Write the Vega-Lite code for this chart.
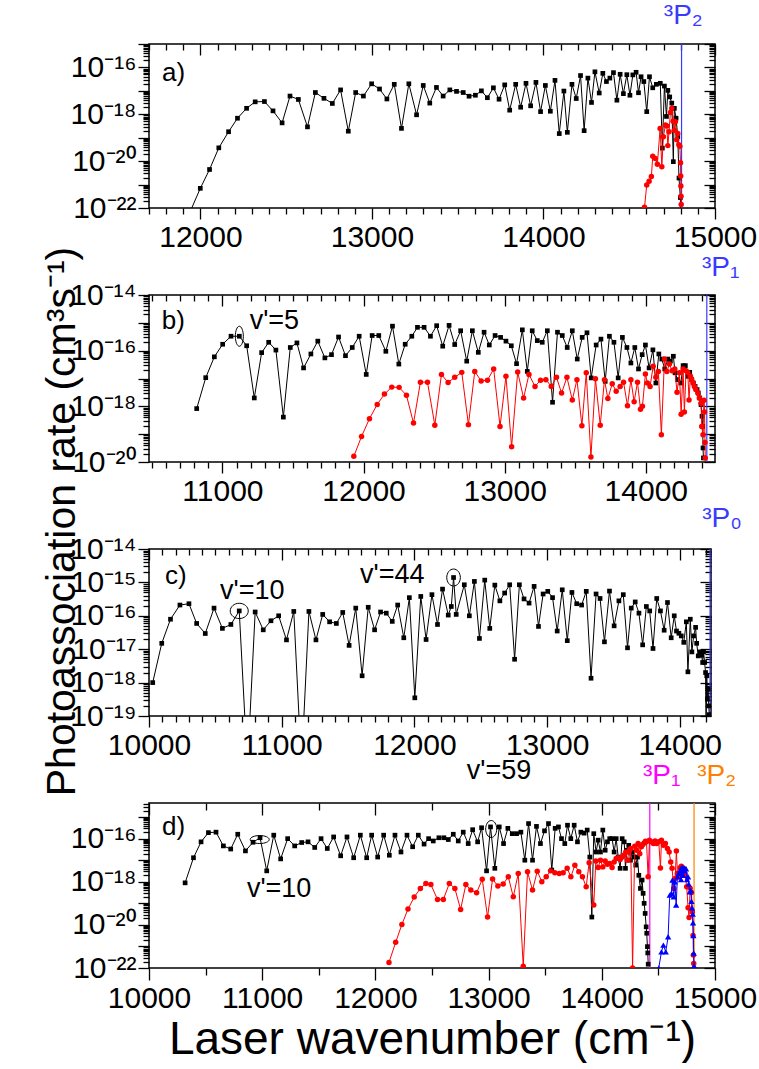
{
"$schema": "https://vega.github.io/schema/vega-lite/v6.json",
"padding": {"left": 40, "top": 1, "right": 0, "bottom": 0},
"config": {
  "font": "Liberation Sans",
  "view": {"stroke": "black", "strokeWidth": 1.5},
  "axis": {"domain": false, "grid": false, "labelFont": "Liberation Sans", "labelFontSize": 30, "labelColor": "black", "tickColor": "black", "tickWidth": 1.3, "labelOverlap": false, "labelFlush": false, "labelBound": false, "titleFont": "Liberation Sans", "titleColor": "black", "titleFontWeight": "normal"}
},
"datasets": {
"aBlack": [{"x":11890,"y":1e-23},{"x":11999,"y":6.9e-22},{"x":12053,"y":4.4e-21},{"x":12107,"y":3.7e-20},{"x":12164,"y":1.8e-19},{"x":12216,"y":6.8e-19},{"x":12269,"y":1.8e-18},{"x":12319,"y":3.4e-18},{"x":12373,"y":3.5e-18},{"x":12423,"y":1.4e-18},{"x":12476,"y":4.3e-19},{"x":12522,"y":6.0e-18},{"x":12571,"y":4.3e-18},{"x":12624,"y":2.9e-19},{"x":12670,"y":8.5e-18},{"x":12720,"y":4.8e-18},{"x":12769,"y":2.9e-18},{"x":12817,"y":1.1e-17},{"x":12862,"y":1.9e-19},{"x":12905,"y":8.5e-18},{"x":12950,"y":6.0e-18},{"x":12998,"y":2.0e-17},{"x":13044,"y":1.2e-17},{"x":13087,"y":4.5e-18},{"x":13130,"y":1.9e-17},{"x":13172,"y":2.5e-19},{"x":13215,"y":2.0e-17},{"x":13260,"y":9.5e-19},{"x":13299,"y":1.7e-17},{"x":13337,"y":3.0e-18},{"x":13376,"y":1.4e-17},{"x":13415,"y":6.0e-18},{"x":13454,"y":1.1e-17},{"x":13493,"y":9.5e-18},{"x":13532,"y":8.5e-18},{"x":13566,"y":5.9e-18},{"x":13603,"y":6.5e-18},{"x":13638,"y":1.0e-17},{"x":13673,"y":5.1e-18},{"x":13708,"y":1.35e-17},{"x":13741,"y":4.4e-18},{"x":13774,"y":1.8e-17},{"x":13803,"y":1.5e-18},{"x":13838,"y":1.9e-17},{"x":13867,"y":2.0e-18},{"x":13898,"y":2.1e-17},{"x":13925,"y":2.3e-18},{"x":13956,"y":2.3e-17},{"x":13983,"y":1.3e-18},{"x":14011,"y":1.7e-17},{"x":14040,"y":1.35e-18},{"x":14067,"y":2.8e-17},{"x":14092,"y":1.5e-19},{"x":14119,"y":9.8e-18},{"x":14139,"y":1.7e-19},{"x":14166,"y":1.9e-17},{"x":14191,"y":4.7e-18},{"x":14216,"y":4.5e-17},{"x":14237,"y":2.0e-19},{"x":14259,"y":3.5e-17},{"x":14280,"y":3.2e-18},{"x":14300,"y":6.5e-17},{"x":14325,"y":8.1e-18},{"x":14346,"y":5.6e-17},{"x":14367,"y":2.5e-17},{"x":14387,"y":3.5e-17},{"x":14408,"y":6.0e-17},{"x":14428,"y":4.0e-18},{"x":14447,"y":5.1e-17},{"x":14466,"y":7.6e-18},{"x":14486,"y":4.9e-17},{"x":14504,"y":6.5e-18},{"x":14521,"y":4.8e-17},{"x":14540,"y":6.2e-17},{"x":14554,"y":8.3e-18},{"x":14569,"y":4.0e-17},{"x":14585,"y":2.5e-17},{"x":14602,"y":1.3e-18},{"x":14618,"y":4.0e-17},{"x":14637,"y":1.35e-17},{"x":14658,"y":1.9e-17},{"x":14681,"y":2.1e-17},{"x":14693,"y":3.6e-20},{"x":14705,"y":1.6e-17},{"x":14717,"y":8.1e-19},{"x":14725,"y":1.05e-17},{"x":14736,"y":5.5e-18},{"x":14748,"y":3.0e-18},{"x":14757,"y":9.5e-21},{"x":14763,"y":1.8e-18},{"x":14773,"y":6.8e-19},{"x":14783,"y":1.1e-19},{"x":14790,"y":1.9e-21},{"x":14798,"y":2.8e-22},{"x":14801,"y":5e-23}],
"aRed": [{"x":14589,"y":1.07e-22},{"x":14602,"y":9.5e-22},{"x":14616,"y":1.4e-21},{"x":14629,"y":2.2e-21},{"x":14637,"y":1.6e-20},{"x":14652,"y":1.3e-20},{"x":14664,"y":7.4e-21},{"x":14680,"y":2.5e-19},{"x":14690,"y":5.8e-21},{"x":14699,"y":1.1e-19},{"x":14711,"y":3.5e-19},{"x":14719,"y":3.2e-19},{"x":14725,"y":4.6e-20},{"x":14732,"y":1.8e-19},{"x":14740,"y":1.2e-18},{"x":14748,"y":1.8e-18},{"x":14756,"y":5.1e-19},{"x":14763,"y":2.1e-19},{"x":14769,"y":4.8e-19},{"x":14777,"y":8.1e-20},{"x":14783,"y":1.5e-19},{"x":14789,"y":5.0e-20},{"x":14795,"y":4.3e-20},{"x":14799,"y":8.5e-21},{"x":14800,"y":2.3e-21},{"x":14801,"y":8.7e-22},{"x":14802,"y":3.2e-22},{"x":14803,"y":1.4e-22}],
"bBlack": [{"x":10818,"y":8.3e-19},{"x":10882,"y":1.07e-17},{"x":10943,"y":6.0e-17},{"x":11002,"y":1.7e-16},{"x":11061,"y":3.3e-16},{"x":11120,"y":3.3e-16},{"x":11172,"y":1.5e-16},{"x":11226,"y":2.0e-18},{"x":11278,"y":8.5e-17},{"x":11328,"y":2.0e-16},{"x":11379,"y":1.05e-16},{"x":11432,"y":4.1e-19},{"x":11481,"y":1.3e-16},{"x":11528,"y":1.9e-16},{"x":11575,"y":2.4e-17},{"x":11627,"y":7.6e-17},{"x":11676,"y":2.2e-16},{"x":11726,"y":5.5e-17},{"x":11773,"y":7.2e-17},{"x":11823,"y":3.1e-16},{"x":11872,"y":6.6e-17},{"x":11920,"y":1.3e-16},{"x":11969,"y":3.3e-16},{"x":12019,"y":1.4e-17},{"x":12061,"y":3.5e-16},{"x":12108,"y":3.5e-16},{"x":12158,"y":9.5e-17},{"x":12205,"y":7.6e-16},{"x":12250,"y":3.3e-17},{"x":12295,"y":1.7e-16},{"x":12342,"y":3.3e-16},{"x":12382,"y":6.9e-16},{"x":12429,"y":6.9e-16},{"x":12474,"y":3.3e-16},{"x":12518,"y":7.9e-16},{"x":12561,"y":1.45e-16},{"x":12606,"y":8.1e-16},{"x":12646,"y":1.66e-16},{"x":12688,"y":5.2e-16},{"x":12731,"y":4.2e-17},{"x":12771,"y":5.2e-16},{"x":12813,"y":8.7e-17},{"x":12854,"y":4.6e-16},{"x":12891,"y":1.6e-16},{"x":12932,"y":3.5e-16},{"x":12971,"y":3.0e-16},{"x":13009,"y":2.2e-16},{"x":13047,"y":1.5e-16},{"x":13084,"y":3.4e-17},{"x":13125,"y":5.6e-16},{"x":13160,"y":1.8e-17},{"x":13195,"y":5.2e-16},{"x":13231,"y":2.3e-16},{"x":13266,"y":2.0e-16},{"x":13302,"y":5.2e-16},{"x":13339,"y":1.4e-18},{"x":13374,"y":4.6e-16},{"x":13408,"y":3.5e-16},{"x":13443,"y":1.3e-16},{"x":13479,"y":5.2e-16},{"x":13514,"y":5.0e-17},{"x":13549,"y":3.0e-16},{"x":13583,"y":4.4e-16},{"x":13613,"y":1.05e-17},{"x":13648,"y":1.6e-16},{"x":13682,"y":2.6e-16},{"x":13712,"y":7.9e-18},{"x":13742,"y":3.3e-16},{"x":13774,"y":2.0e-16},{"x":13804,"y":1.05e-17},{"x":13834,"y":3.0e-16},{"x":13866,"y":1.3e-16},{"x":13894,"y":3.6e-17},{"x":13922,"y":1.3e-16},{"x":13948,"y":2.2e-17},{"x":13974,"y":7.2e-17},{"x":13997,"y":1.6e-16},{"x":14023,"y":2.4e-17},{"x":14050,"y":1.07e-16},{"x":14071,"y":6.9e-18},{"x":14092,"y":7.6e-17},{"x":14113,"y":5.0e-17},{"x":14134,"y":2.2e-17},{"x":14156,"y":5.0e-17},{"x":14174,"y":4.2e-17},{"x":14195,"y":6.3e-17},{"x":14207,"y":1.6e-17},{"x":14226,"y":9.1e-18},{"x":14248,"y":6.9e-18},{"x":14264,"y":2.9e-17},{"x":14280,"y":2.9e-17},{"x":14297,"y":1.2e-17},{"x":14311,"y":1.66e-17},{"x":14325,"y":9.1e-18},{"x":14337,"y":6.9e-18},{"x":14349,"y":5.2e-18},{"x":14363,"y":4.0e-18},{"x":14372,"y":3.0e-18},{"x":14382,"y":2.0e-18},{"x":14391,"y":1.15e-18},{"x":14398,"y":4.4e-19},{"x":14403,"y":1.9e-19},{"x":14405,"y":3.2e-20},{"x":14408,"y":1.4e-20}],
"bRed": [{"x":11931,"y":1.6e-20},{"x":11986,"y":8.3e-20},{"x":12042,"y":3.6e-19},{"x":12097,"y":1.17e-18},{"x":12148,"y":2.75e-18},{"x":12200,"y":4.9e-18},{"x":12252,"y":4.8e-18},{"x":12304,"y":2.5e-18},{"x":12354,"y":2.5e-19},{"x":12403,"y":7.4e-18},{"x":12453,"y":7.4e-18},{"x":12505,"y":2.1e-19},{"x":12552,"y":1.4e-17},{"x":12599,"y":7.2e-18},{"x":12646,"y":1.1e-17},{"x":12696,"y":1.66e-17},{"x":12743,"y":2.2e-19},{"x":12788,"y":1.8e-17},{"x":12833,"y":8.1e-18},{"x":12878,"y":8.7e-18},{"x":12922,"y":2.2e-17},{"x":12967,"y":1.9e-19},{"x":13009,"y":1.2e-17},{"x":13049,"y":3.5e-20},{"x":13092,"y":1.7e-17},{"x":13134,"y":2.0e-18},{"x":13172,"y":1.4e-17},{"x":13215,"y":5.2e-18},{"x":13254,"y":8.7e-18},{"x":13292,"y":9.1e-18},{"x":13330,"y":5.2e-18},{"x":13367,"y":1.1e-17},{"x":13403,"y":3.0e-18},{"x":13441,"y":1.1e-17},{"x":13479,"y":1.7e-18},{"x":13512,"y":9.1e-18},{"x":13547,"y":2.0e-19},{"x":13578,"y":1.6e-17},{"x":13611,"y":1.5e-20},{"x":13643,"y":9.8e-18},{"x":13677,"y":2.1e-19},{"x":13707,"y":9.1e-18},{"x":13731,"y":1.9e-18},{"x":13762,"y":6.5e-18},{"x":13790,"y":3.5e-18},{"x":13818,"y":5.2e-18},{"x":13842,"y":7.4e-18},{"x":13870,"y":1.05e-18},{"x":13894,"y":9.1e-18},{"x":13917,"y":1.45e-18},{"x":13941,"y":7.4e-18},{"x":13962,"y":7.9e-19},{"x":13976,"y":1.0e-18},{"x":13997,"y":1.45e-17},{"x":14011,"y":6.9e-18},{"x":14030,"y":5.2e-18},{"x":14052,"y":2.75e-17},{"x":14071,"y":1.1e-17},{"x":14089,"y":1.8e-17},{"x":14110,"y":9.5e-20},{"x":14132,"y":5.0e-17},{"x":14149,"y":1.8e-17},{"x":14167,"y":3.3e-17},{"x":14186,"y":1.9e-17},{"x":14205,"y":2.2e-17},{"x":14221,"y":3.2e-18},{"x":14238,"y":1.6e-17},{"x":14250,"y":5.2e-19},{"x":14264,"y":2.2e-17},{"x":14273,"y":6.2e-19},{"x":14285,"y":1.9e-17},{"x":14297,"y":1.66e-17},{"x":14306,"y":1.7e-18},{"x":14316,"y":1.2e-17},{"x":14325,"y":9.1e-18},{"x":14335,"y":6.9e-18},{"x":14344,"y":5.2e-18},{"x":14354,"y":4.0e-18},{"x":14368,"y":3.0e-18},{"x":14379,"y":2.0e-18},{"x":14391,"y":1.3e-18},{"x":14396,"y":1.9e-19},{"x":14405,"y":9.5e-20},{"x":14412,"y":1.66e-18},{"x":14416,"y":6.3e-19},{"x":14419,"y":5.0e-20},{"x":14421,"y":1.4e-20}],
"cBlack": [{"x":10028,"y":1.0e-18},{"x":10096,"y":1.5e-17},{"x":10162,"y":7.9e-17},{"x":10233,"y":2.1e-16},{"x":10301,"y":2.3e-16},{"x":10359,"y":5.9e-17},{"x":10424,"y":2.95e-17},{"x":10490,"y":1.7e-16},{"x":10553,"y":4.2e-17},{"x":10617,"y":5.5e-17},{"x":10680,"y":1.4e-16},{"x":10742,"y":3e-21},{"x":10800,"y":1.3e-16},{"x":10861,"y":3.8e-17},{"x":10919,"y":7.1e-17},{"x":10977,"y":1.0e-16},{"x":11036,"y":1.9e-17},{"x":11091,"y":1.35e-16},{"x":11149,"y":3e-21},{"x":11205,"y":1.35e-16},{"x":11258,"y":1.9e-17},{"x":11309,"y":1.1e-16},{"x":11361,"y":6.6e-17},{"x":11412,"y":5.9e-17},{"x":11460,"y":1.26e-16},{"x":11508,"y":1.3e-17},{"x":11558,"y":1.7e-16},{"x":11606,"y":1.6e-18},{"x":11652,"y":1.8e-16},{"x":11700,"y":3.8e-17},{"x":11745,"y":1.3e-16},{"x":11788,"y":1.2e-16},{"x":11833,"y":6.8e-17},{"x":11874,"y":2.1e-16},{"x":11920,"y":2.2e-17},{"x":11962,"y":3.5e-16},{"x":12003,"y":3.5e-19},{"x":12048,"y":3.8e-16},{"x":12088,"y":1.95e-17},{"x":12132,"y":4.3e-16},{"x":12174,"y":5.5e-17},{"x":12212,"y":6.3e-16},{"x":12255,"y":1.05e-16},{"x":12278,"y":1.9e-16},{"x":12295,"y":1.4e-15},{"x":12315,"y":1.1e-16},{"x":12376,"y":8.5e-16},{"x":12414,"y":1.0e-16},{"x":12452,"y":1.07e-15},{"x":12490,"y":2.1e-17},{"x":12530,"y":1.17e-15},{"x":12568,"y":4.2e-17},{"x":12606,"y":8.3e-16},{"x":12644,"y":2.8e-16},{"x":12680,"y":4.8e-16},{"x":12718,"y":8.5e-16},{"x":12755,"y":5.0e-18},{"x":12791,"y":8.5e-16},{"x":12826,"y":3.2e-16},{"x":12864,"y":2.4e-16},{"x":12902,"y":7.6e-16},{"x":12935,"y":4.8e-17},{"x":12970,"y":4.5e-16},{"x":13005,"y":5.4e-16},{"x":13041,"y":3.5e-16},{"x":13076,"y":3.5e-17},{"x":13114,"y":6.0e-16},{"x":13152,"y":1.8e-17},{"x":13187,"y":5.0e-16},{"x":13223,"y":2.3e-16},{"x":13260,"y":2.1e-16},{"x":13295,"y":5.4e-16},{"x":13331,"y":1.35e-18},{"x":13369,"y":4.5e-16},{"x":13399,"y":3.3e-16},{"x":13432,"y":1.66e-17},{"x":13470,"y":5.5e-16},{"x":13505,"y":5.0e-17},{"x":13541,"y":2.8e-16},{"x":13574,"y":4.3e-16},{"x":13606,"y":1.1e-17},{"x":13634,"y":1.7e-16},{"x":13664,"y":2.6e-16},{"x":13692,"y":1.2e-16},{"x":13720,"y":1.35e-17},{"x":13748,"y":1.9e-16},{"x":13773,"y":1.4e-16},{"x":13798,"y":1.05e-17},{"x":13826,"y":3.3e-16},{"x":13854,"y":1.4e-16},{"x":13882,"y":3.7e-17},{"x":13907,"y":2.5e-16},{"x":13935,"y":2.2e-17},{"x":13958,"y":1.0e-16},{"x":13975,"y":3.5e-17},{"x":13993,"y":3.0e-17},{"x":14011,"y":2.5e-17},{"x":14030,"y":1.6e-17},{"x":14049,"y":6.6e-17},{"x":14061,"y":2.1e-18},{"x":14079,"y":7.9e-17},{"x":14091,"y":8.3e-18},{"x":14104,"y":2.5e-17},{"x":14119,"y":4.5e-17},{"x":14127,"y":1.5e-17},{"x":14139,"y":6.3e-18},{"x":14152,"y":8.3e-18},{"x":14164,"y":6.6e-18},{"x":14172,"y":4.0e-18},{"x":14179,"y":8.3e-18},{"x":14187,"y":4.0e-18},{"x":14194,"y":2.0e-18},{"x":14198,"y":3.2e-20},{"x":14203,"y":1.6e-18},{"x":14208,"y":3.2e-19},{"x":14213,"y":6.3e-19},{"x":14218,"y":2.0e-19},{"x":14222,"y":1.1e-19},{"x":14225,"y":5e-20}],
"dBlack": [{"x":10319,"y":8.9e-19},{"x":10393,"y":1.3e-17},{"x":10460,"y":7.1e-17},{"x":10525,"y":1.9e-16},{"x":10592,"y":2.0e-16},{"x":10657,"y":4.6e-17},{"x":10722,"y":3.3e-17},{"x":10784,"y":1.6e-16},{"x":10852,"y":2.7e-17},{"x":10919,"y":6.8e-17},{"x":10981,"y":1.1e-16},{"x":11040,"y":3.2e-18},{"x":11102,"y":1.45e-16},{"x":11163,"y":1.15e-17},{"x":11225,"y":1.0e-16},{"x":11287,"y":4.6e-17},{"x":11349,"y":6.6e-17},{"x":11405,"y":7.1e-17},{"x":11464,"y":3.9e-17},{"x":11520,"y":1.0e-16},{"x":11575,"y":3.5e-17},{"x":11631,"y":1.2e-16},{"x":11693,"y":1.6e-17},{"x":11749,"y":1.2e-16},{"x":11808,"y":1.3e-17},{"x":11867,"y":1.45e-16},{"x":11923,"y":1.3e-17},{"x":11967,"y":1.45e-16},{"x":12020,"y":1.4e-17},{"x":12073,"y":1.45e-16},{"x":12123,"y":1.7e-17},{"x":12173,"y":1.45e-16},{"x":12226,"y":2.4e-17},{"x":12279,"y":1.45e-16},{"x":12329,"y":4.2e-17},{"x":12379,"y":1.45e-16},{"x":12430,"y":5.6e-17},{"x":12470,"y":1.0e-16},{"x":12511,"y":7.8e-17},{"x":12561,"y":1.1e-16},{"x":12605,"y":1.1e-16},{"x":12644,"y":9.1e-17},{"x":12688,"y":1.6e-16},{"x":12732,"y":7.8e-17},{"x":12776,"y":2.0e-16},{"x":12820,"y":5.9e-17},{"x":12859,"y":2.6e-16},{"x":12903,"y":7.1e-17},{"x":12938,"y":3.2e-16},{"x":12982,"y":3.2e-18},{"x":13017,"y":3.5e-16},{"x":13055,"y":4.2e-18},{"x":13094,"y":3.5e-16},{"x":13132,"y":5.9e-17},{"x":13170,"y":3.0e-16},{"x":13209,"y":1.7e-16},{"x":13247,"y":1.7e-16},{"x":13285,"y":2.0e-16},{"x":13320,"y":1.0e-17},{"x":13353,"y":5.0e-16},{"x":13388,"y":1.0e-17},{"x":13423,"y":3.7e-16},{"x":13458,"y":5.9e-17},{"x":13494,"y":2.3e-16},{"x":13529,"y":5.0e-16},{"x":13558,"y":3.5e-18},{"x":13588,"y":3.0e-16},{"x":13617,"y":3.5e-16},{"x":13644,"y":1.0e-16},{"x":13673,"y":5.9e-17},{"x":13697,"y":4.2e-16},{"x":13726,"y":1.0e-16},{"x":13756,"y":4.2e-16},{"x":13785,"y":7.1e-17},{"x":13815,"y":2.0e-16},{"x":13844,"y":1.8e-16},{"x":13871,"y":2.5e-16},{"x":13894,"y":1.4e-17},{"x":13912,"y":2.3e-20},{"x":13929,"y":1.7e-16},{"x":13950,"y":2.4e-17},{"x":13968,"y":8.5e-17},{"x":13988,"y":2.4e-17},{"x":14009,"y":2.5e-16},{"x":14030,"y":2.9e-17},{"x":14050,"y":7.1e-17},{"x":14070,"y":1.0e-16},{"x":14091,"y":1.0e-16},{"x":14109,"y":2.4e-17},{"x":14127,"y":1.0e-16},{"x":14145,"y":1.4e-17},{"x":14162,"y":4.2e-18},{"x":14180,"y":1.0e-16},{"x":14198,"y":7.1e-17},{"x":14209,"y":4.2e-18},{"x":14221,"y":2.9e-17},{"x":14238,"y":4.9e-17},{"x":14253,"y":1.0e-17},{"x":14268,"y":2.4e-17},{"x":14286,"y":1.4e-17},{"x":14300,"y":5.9e-18},{"x":14315,"y":1.4e-17},{"x":14327,"y":2.0e-18},{"x":14341,"y":4.9e-19},{"x":14356,"y":1.2e-18},{"x":14365,"y":2.9e-19},{"x":14374,"y":1.0e-19},{"x":14383,"y":3.4e-20},{"x":14392,"y":8.1e-21},{"x":14397,"y":4.1e-21},{"x":14403,"y":9.8e-22},{"x":14406,"y":5.0e-22},{"x":14410,"y":1.5e-22}],
"dRed": [{"x":12120,"y":1.8e-22},{"x":12179,"y":1.55e-21},{"x":12234,"y":1.05e-20},{"x":12288,"y":5.4e-20},{"x":12343,"y":1.95e-19},{"x":12397,"y":4.9e-19},{"x":12446,"y":8.3e-19},{"x":12490,"y":7.4e-19},{"x":12549,"y":1.5e-19},{"x":12600,"y":1.5e-19},{"x":12653,"y":8.3e-19},{"x":12702,"y":4.9e-19},{"x":12753,"y":5.2e-20},{"x":12799,"y":7.4e-19},{"x":12843,"y":4.1e-19},{"x":12894,"y":3.1e-19},{"x":12944,"y":1.3e-18},{"x":12991,"y":2.3e-20},{"x":13035,"y":1.35e-18},{"x":13082,"y":6.3e-19},{"x":13129,"y":7.8e-19},{"x":13174,"y":1.7e-18},{"x":13218,"y":2.0e-19},{"x":13262,"y":2.4e-18},{"x":13306,"y":1.2e-22},{"x":13344,"y":2.9e-18},{"x":13388,"y":4.1e-19},{"x":13430,"y":3.1e-18},{"x":13470,"y":1.0e-18},{"x":13509,"y":1.7e-18},{"x":13547,"y":3.2e-18},{"x":13585,"y":2.6e-18},{"x":13624,"y":2.4e-18},{"x":13659,"y":2.6e-18},{"x":13694,"y":4.2e-18},{"x":13727,"y":1.7e-18},{"x":13762,"y":5.9e-18},{"x":13797,"y":2.9e-18},{"x":13829,"y":1.7e-18},{"x":13862,"y":5.8e-19},{"x":13888,"y":7.6e-18},{"x":13929,"y":8.3e-20},{"x":13947,"y":9.3e-18},{"x":13968,"y":4.6e-18},{"x":13988,"y":1.0e-17},{"x":14009,"y":4.9e-18},{"x":14030,"y":9.3e-18},{"x":14050,"y":6.5e-18},{"x":14070,"y":7.1e-18},{"x":14091,"y":4.6e-18},{"x":14109,"y":8.3e-18},{"x":14127,"y":1.2e-17},{"x":14145,"y":1.3e-17},{"x":14162,"y":1.07e-17},{"x":14180,"y":1.4e-17},{"x":14194,"y":1.7e-17},{"x":14212,"y":2.4e-17},{"x":14227,"y":1.0e-17},{"x":14238,"y":2.4e-17},{"x":14247,"y":3.1e-17},{"x":14256,"y":3.5e-17},{"x":14272,"y":1.0e-22},{"x":14291,"y":4.5e-17},{"x":14306,"y":2.9e-17},{"x":14321,"y":5.9e-17},{"x":14335,"y":2.0e-17},{"x":14350,"y":4.2e-17},{"x":14362,"y":5.4e-17},{"x":14374,"y":6.3e-17},{"x":14386,"y":7.6e-17},{"x":14395,"y":7.1e-17},{"x":14409,"y":1.7e-18},{"x":14421,"y":8.5e-17},{"x":14439,"y":7.1e-17},{"x":14456,"y":5.9e-17},{"x":14471,"y":7.8e-17},{"x":14485,"y":5.9e-17},{"x":14503,"y":7.1e-17},{"x":14518,"y":4.4e-18},{"x":14527,"y":8.5e-17},{"x":14544,"y":4.9e-17},{"x":14562,"y":5.9e-17},{"x":14580,"y":3.5e-17},{"x":14595,"y":2.4e-17},{"x":14609,"y":8.3e-18},{"x":14621,"y":4.2e-18},{"x":14636,"y":4.9e-19},{"x":14648,"y":1.4e-18},{"x":14659,"y":2.7e-17},{"x":14668,"y":2.5e-18},{"x":14680,"y":1.7e-18},{"x":14692,"y":4.5e-18},{"x":14703,"y":5.2e-18},{"x":14715,"y":3.2e-18},{"x":14727,"y":4.0e-18},{"x":14738,"y":2.0e-18},{"x":14750,"y":5.8e-19},{"x":14762,"y":6.3e-20},{"x":14771,"y":2.2e-20},{"x":14780,"y":5.0e-19},{"x":14792,"y":3.2e-19},{"x":14800,"y":4.0e-20},{"x":14806,"y":3.2e-21},{"x":14809,"y":4.0e-22},{"x":14812,"y":1.6e-22}],
"dBlue": [{"x":14503,"y":1.0e-22},{"x":14527,"y":5.6e-22},{"x":14544,"y":1.15e-21},{"x":14565,"y":5.6e-22},{"x":14586,"y":2.8e-21},{"x":14600,"y":2.4e-19},{"x":14615,"y":2.9e-19},{"x":14624,"y":1.2e-18},{"x":14636,"y":2.0e-19},{"x":14645,"y":1.0e-18},{"x":14657,"y":8.3e-20},{"x":14668,"y":1.7e-18},{"x":14680,"y":2.5e-18},{"x":14692,"y":3.5e-18},{"x":14700,"y":1.26e-18},{"x":14709,"y":4.9e-18},{"x":14718,"y":2.0e-18},{"x":14727,"y":4.5e-18},{"x":14735,"y":3.2e-18},{"x":14744,"y":4.0e-18},{"x":14753,"y":1.26e-18},{"x":14762,"y":1.7e-18},{"x":14768,"y":7.9e-19},{"x":14777,"y":3.4e-19},{"x":14786,"y":4.0e-19},{"x":14792,"y":1.26e-19},{"x":14797,"y":6.3e-20},{"x":14803,"y":3.2e-20},{"x":14806,"y":1.26e-20},{"x":14809,"y":3.2e-21},{"x":14812,"y":5.0e-22},{"x":14815,"y":1.26e-22}]
},
"spacing": 87,
"bounds": "flush",
"vconcat": [
{
 "width": 566, "height": 164,
 "resolve": {"axis": {"x": "independent", "y": "independent"}},
 "layer": [
  {"data": {"values": [{}]}, "mark": {"type": "rule", "color": "#3a3aff", "strokeWidth": 1.2}, "encoding": {"x": {"datum": 14805, "type": "quantitative", "scale": {"domain": [11700, 15000], "nice": false, "zero": false}, "axis": null}}},
  {"data": {"name": "aBlack"}, "mark": {"type": "line", "color": "black", "strokeWidth": 1, "clip": true},
   "encoding": {
    "x": {"field": "x", "type": "quantitative", "scale": {"domain": [11700, 15000], "nice": false, "zero": false},
      "axis": {"orient": "bottom", "values": [11700,11800,11900,12000,12100,12200,12300,12400,12500,12600,12700,12800,12900,13000,13100,13200,13300,13400,13500,13600,13700,13800,13900,14000,14100,14200,14300,14400,14500,14600,14700,14800,14900,15000], "tickSize": {"condition": {"test": "datum.value % 1000 == 0", "value": 11}, "value": 6}, "labelExpr": "datum.value % 1000 == 0 ? format(datum.value, 'd') : ''", "labelPadding": 3, "title": null}},
    "y": {"field": "y", "type": "quantitative", "scale": {"type": "log", "domain": [1e-22, 1e-15], "nice": false},
      "axis": {"orient": "left", "tickCount": 40, "tickSize": {"condition": {"test": "abs(log(datum.value)/LN10 - round(log(datum.value)/LN10)) < 0.01", "value": 11}, "value": 6}, "labelExpr": "abs(log(datum.value)/LN10 - round(log(datum.value)/LN10)) < 0.01 && round(log(datum.value)/LN10) % 2 == 0 ? '10⁻' + substring('⁰¹²³⁴⁵⁶⁷⁸⁹', floor(-round(log(datum.value)/LN10) / 10), floor(-round(log(datum.value)/LN10) / 10) + 1) + substring('⁰¹²³⁴⁵⁶⁷⁸⁹', -round(log(datum.value)/LN10) % 10, -round(log(datum.value)/LN10) % 10 + 1) : ''", "labelPadding": 2, "title": null}}
   }},
  {"data": {"name": "aBlack"}, "mark": {"type": "point", "shape": "square", "filled": true, "color": "black", "size": 22, "opacity": 1, "clip": true},
   "encoding": {
    "x": {"field": "x", "type": "quantitative", "scale": {"domain": [11700, 15000], "nice": false, "zero": false},
      "axis": {"orient": "top", "values": [11700,11800,11900,12000,12100,12200,12300,12400,12500,12600,12700,12800,12900,13000,13100,13200,13300,13400,13500,13600,13700,13800,13900,14000,14100,14200,14300,14400,14500,14600,14700,14800,14900,15000], "tickSize": {"condition": {"test": "datum.value % 1000 == 0", "value": -11}, "value": -6}, "labels": false, "title": null}},
    "y": {"field": "y", "type": "quantitative", "scale": {"type": "log", "domain": [1e-22, 1e-15], "nice": false},
      "axis": {"orient": "right", "tickCount": 40, "tickSize": {"condition": {"test": "abs(log(datum.value)/LN10 - round(log(datum.value)/LN10)) < 0.01", "value": -11}, "value": -6}, "labels": false, "title": null}}
   }},
  {"data": {"name": "aRed"}, "mark": {"type": "line", "color": "#ff0000", "strokeWidth": 1, "clip": true},
   "encoding": {"x": {"field": "x", "type": "quantitative", "scale": {"domain": [11700, 15000], "nice": false, "zero": false}, "axis": null}, "y": {"field": "y", "type": "quantitative", "scale": {"type": "log", "domain": [1e-22, 1e-15], "nice": false}, "axis": null}}},
  {"data": {"name": "aRed"}, "mark": {"type": "point", "shape": "circle", "filled": true, "color": "#ff0000", "size": 30, "opacity": 1, "clip": true},
   "encoding": {"x": {"field": "x", "type": "quantitative", "scale": {"domain": [11700, 15000], "nice": false, "zero": false}, "axis": null}, "y": {"field": "y", "type": "quantitative", "scale": {"type": "log", "domain": [1e-22, 1e-15], "nice": false}, "axis": null}}},
  {"data": {"values": [{}]}, "mark": {"type": "text", "text": "a)", "fontSize": 26, "color": "black", "align": "left", "baseline": "middle"},
   "encoding": {"x": {"datum": 11776, "type": "quantitative", "scale": {"domain": [11700, 15000], "nice": false, "zero": false}, "axis": null}, "y": {"datum": 5.8e-17, "type": "quantitative", "scale": {"type": "log", "domain": [1e-22, 1e-15], "nice": false}, "axis": null}}},
  {"data": {"values": [{}]}, "mark": {"type": "text", "text": "³P₂", "fontSize": 28, "color": "#3a3aff", "align": "center", "baseline": "middle"},
   "encoding": {"x": {"datum": 14815, "type": "quantitative", "scale": {"domain": [11700, 15000], "nice": false, "zero": false}, "axis": null}, "y": {"datum": 1.6e-14, "type": "quantitative", "scale": {"type": "log", "domain": [1e-22, 1e-15], "nice": false}, "axis": null}}}
 ]
},
{
 "width": 566, "height": 167,
 "resolve": {"axis": {"x": "independent", "y": "independent"}},
 "layer": [
  {"data": {"values": [{}]}, "mark": {"type": "rule", "color": "#3a3aff", "strokeWidth": 1.2}, "encoding": {"x": {"datum": 14432, "type": "quantitative", "scale": {"domain": [10480, 14490], "nice": false, "zero": false}, "axis": null}}},
  {"data": {"name": "bBlack"}, "mark": {"type": "line", "color": "black", "strokeWidth": 1, "clip": true},
   "encoding": {
    "x": {"field": "x", "type": "quantitative", "scale": {"domain": [10480, 14490], "nice": false, "zero": false},
      "axis": {"orient": "bottom", "values": [10500,10600,10700,10800,10900,11000,11100,11200,11300,11400,11500,11600,11700,11800,11900,12000,12100,12200,12300,12400,12500,12600,12700,12800,12900,13000,13100,13200,13300,13400,13500,13600,13700,13800,13900,14000,14100,14200,14300,14400], "tickSize": {"condition": {"test": "datum.value % 1000 == 0", "value": 11}, "value": 6}, "labelExpr": "datum.value % 1000 == 0 ? format(datum.value, 'd') : ''", "labelPadding": 3, "title": null}},
    "y": {"field": "y", "type": "quantitative", "scale": {"type": "log", "domain": [1e-20, 1e-14], "nice": false},
      "axis": {"orient": "left", "tickCount": 40, "tickSize": {"condition": {"test": "abs(log(datum.value)/LN10 - round(log(datum.value)/LN10)) < 0.01", "value": 11}, "value": 6}, "labelExpr": "abs(log(datum.value)/LN10 - round(log(datum.value)/LN10)) < 0.01 && round(log(datum.value)/LN10) % 2 == 0 ? '10⁻' + substring('⁰¹²³⁴⁵⁶⁷⁸⁹', floor(-round(log(datum.value)/LN10) / 10), floor(-round(log(datum.value)/LN10) / 10) + 1) + substring('⁰¹²³⁴⁵⁶⁷⁸⁹', -round(log(datum.value)/LN10) % 10, -round(log(datum.value)/LN10) % 10 + 1) : ''", "labelPadding": 2,
        "title": "Photoassociation rate (cm³s⁻¹)", "titleFontSize": 41, "titleX": -87, "titleY": 226, "titleAngle": 270, "titleAlign": "center", "titleBaseline": "middle"}}
   }},
  {"data": {"name": "bBlack"}, "mark": {"type": "point", "shape": "square", "filled": true, "color": "black", "size": 22, "opacity": 1, "clip": true},
   "encoding": {
    "x": {"field": "x", "type": "quantitative", "scale": {"domain": [10480, 14490], "nice": false, "zero": false},
      "axis": {"orient": "top", "values": [10500,10600,10700,10800,10900,11000,11100,11200,11300,11400,11500,11600,11700,11800,11900,12000,12100,12200,12300,12400,12500,12600,12700,12800,12900,13000,13100,13200,13300,13400,13500,13600,13700,13800,13900,14000,14100,14200,14300,14400], "tickSize": {"condition": {"test": "datum.value % 1000 == 0", "value": -11}, "value": -6}, "labels": false, "title": null}},
    "y": {"field": "y", "type": "quantitative", "scale": {"type": "log", "domain": [1e-20, 1e-14], "nice": false},
      "axis": {"orient": "right", "tickCount": 40, "tickSize": {"condition": {"test": "abs(log(datum.value)/LN10 - round(log(datum.value)/LN10)) < 0.01", "value": -11}, "value": -6}, "labels": false, "title": null}}
   }},
  {"data": {"name": "bRed"}, "mark": {"type": "line", "color": "#ff0000", "strokeWidth": 1, "clip": true},
   "encoding": {"x": {"field": "x", "type": "quantitative", "scale": {"domain": [10480, 14490], "nice": false, "zero": false}, "axis": null}, "y": {"field": "y", "type": "quantitative", "scale": {"type": "log", "domain": [1e-20, 1e-14], "nice": false}, "axis": null}}},
  {"data": {"name": "bRed"}, "mark": {"type": "point", "shape": "circle", "filled": true, "color": "#ff0000", "size": 30, "opacity": 1, "clip": true},
   "encoding": {"x": {"field": "x", "type": "quantitative", "scale": {"domain": [10480, 14490], "nice": false, "zero": false}, "axis": null}, "y": {"field": "y", "type": "quantitative", "scale": {"type": "log", "domain": [1e-20, 1e-14], "nice": false}, "axis": null}}},
  {"data": {"values": [{}]}, "mark": {"type": "text", "text": "b)", "fontSize": 26, "color": "black", "align": "left", "baseline": "middle"},
   "encoding": {"x": {"datum": 10570, "type": "quantitative", "scale": {"domain": [10480, 14490], "nice": false, "zero": false}, "axis": null}, "y": {"datum": 1.2e-15, "type": "quantitative", "scale": {"type": "log", "domain": [1e-20, 1e-14], "nice": false}, "axis": null}}},
  {"data": {"values": [{}]}, "mark": {"type": "text", "text": "v'=5", "fontSize": 27, "color": "black", "align": "left", "baseline": "middle"},
   "encoding": {"x": {"datum": 11193, "type": "quantitative", "scale": {"domain": [10480, 14490], "nice": false, "zero": false}, "axis": null}, "y": {"datum": 1.2e-15, "type": "quantitative", "scale": {"type": "log", "domain": [1e-20, 1e-14], "nice": false}, "axis": null}}},
  {"data": {"values": [{}]}, "mark": {"type": "point", "shape": "M-0.4,0A0.4,1 0 1,0 0.4,0A0.4,1 0 1,0 -0.4,0Z", "filled": false, "color": "black", "strokeWidth": 1, "size": 400, "opacity": 1},
   "encoding": {"x": {"datum": 11120, "type": "quantitative", "scale": {"domain": [10480, 14490], "nice": false, "zero": false}, "axis": null}, "y": {"datum": 3.3e-16, "type": "quantitative", "scale": {"type": "log", "domain": [1e-20, 1e-14], "nice": false}, "axis": null}}},
  {"data": {"values": [{}]}, "mark": {"type": "text", "text": "³P₁", "fontSize": 28, "color": "#3a3aff", "align": "center", "baseline": "middle"},
   "encoding": {"x": {"datum": 14530, "type": "quantitative", "scale": {"domain": [10480, 14490], "nice": false, "zero": false}, "axis": null}, "y": {"datum": 9.3e-14, "type": "quantitative", "scale": {"type": "log", "domain": [1e-20, 1e-14], "nice": false}, "axis": null}}}
 ]
},
{
 "width": 562, "height": 167,
 "resolve": {"axis": {"x": "independent", "y": "independent"}},
 "layer": [
  {"data": {"values": [{}]}, "mark": {"type": "rule", "color": "#3a3aff", "strokeWidth": 1.2}, "encoding": {"x": {"datum": 14228, "type": "quantitative", "scale": {"domain": [10000, 14235], "nice": false, "zero": false}, "axis": null}}},
  {"data": {"name": "cBlack"}, "mark": {"type": "line", "color": "black", "strokeWidth": 1, "clip": true},
   "encoding": {
    "x": {"field": "x", "type": "quantitative", "scale": {"domain": [10000, 14235], "nice": false, "zero": false},
      "axis": {"orient": "bottom", "values": [10000,10100,10200,10300,10400,10500,10600,10700,10800,10900,11000,11100,11200,11300,11400,11500,11600,11700,11800,11900,12000,12100,12200,12300,12400,12500,12600,12700,12800,12900,13000,13100,13200,13300,13400,13500,13600,13700,13800,13900,14000,14100,14200], "tickSize": {"condition": {"test": "datum.value % 1000 == 0", "value": 11}, "value": 6}, "labelExpr": "datum.value % 1000 == 0 ? format(datum.value, 'd') : ''", "labelPadding": 3, "title": null}},
    "y": {"field": "y", "type": "quantitative", "scale": {"type": "log", "domain": [1e-19, 1e-14], "nice": false},
      "axis": {"orient": "left", "tickCount": 40, "tickSize": {"condition": {"test": "abs(log(datum.value)/LN10 - round(log(datum.value)/LN10)) < 0.01", "value": 11}, "value": 6}, "labelExpr": "abs(log(datum.value)/LN10 - round(log(datum.value)/LN10)) < 0.01 ? '10⁻' + substring('⁰¹²³⁴⁵⁶⁷⁸⁹', floor(-round(log(datum.value)/LN10) / 10), floor(-round(log(datum.value)/LN10) / 10) + 1) + substring('⁰¹²³⁴⁵⁶⁷⁸⁹', -round(log(datum.value)/LN10) % 10, -round(log(datum.value)/LN10) % 10 + 1) : ''", "labelPadding": 2, "title": null}}
   }},
  {"data": {"name": "cBlack"}, "mark": {"type": "point", "shape": "square", "filled": true, "color": "black", "size": 22, "opacity": 1, "clip": true},
   "encoding": {
    "x": {"field": "x", "type": "quantitative", "scale": {"domain": [10000, 14235], "nice": false, "zero": false},
      "axis": {"orient": "top", "values": [10000,10100,10200,10300,10400,10500,10600,10700,10800,10900,11000,11100,11200,11300,11400,11500,11600,11700,11800,11900,12000,12100,12200,12300,12400,12500,12600,12700,12800,12900,13000,13100,13200,13300,13400,13500,13600,13700,13800,13900,14000,14100,14200], "tickSize": {"condition": {"test": "datum.value % 1000 == 0", "value": -11}, "value": -6}, "labels": false, "title": null}},
    "y": {"field": "y", "type": "quantitative", "scale": {"type": "log", "domain": [1e-19, 1e-14], "nice": false},
      "axis": {"orient": "right", "tickCount": 40, "tickSize": {"condition": {"test": "abs(log(datum.value)/LN10 - round(log(datum.value)/LN10)) < 0.01", "value": -11}, "value": -6}, "labels": false, "title": null}}
   }},
  {"data": {"values": [{}]}, "mark": {"type": "text", "text": "c)", "fontSize": 26, "color": "black", "align": "left", "baseline": "middle"},
   "encoding": {"x": {"datum": 10120, "type": "quantitative", "scale": {"domain": [10000, 14235], "nice": false, "zero": false}, "axis": null}, "y": {"datum": 1.55e-15, "type": "quantitative", "scale": {"type": "log", "domain": [1e-19, 1e-14], "nice": false}, "axis": null}}},
  {"data": {"values": [{}]}, "mark": {"type": "text", "text": "v'=10", "fontSize": 27, "color": "black", "align": "left", "baseline": "middle"},
   "encoding": {"x": {"datum": 10535, "type": "quantitative", "scale": {"domain": [10000, 14235], "nice": false, "zero": false}, "axis": null}, "y": {"datum": 5.5e-16, "type": "quantitative", "scale": {"type": "log", "domain": [1e-19, 1e-14], "nice": false}, "axis": null}}},
  {"data": {"values": [{}]}, "mark": {"type": "text", "text": "v'=44", "fontSize": 27, "color": "black", "align": "left", "baseline": "middle"},
   "encoding": {"x": {"datum": 11590, "type": "quantitative", "scale": {"domain": [10000, 14235], "nice": false, "zero": false}, "axis": null}, "y": {"datum": 1.66e-15, "type": "quantitative", "scale": {"type": "log", "domain": [1e-19, 1e-14], "nice": false}, "axis": null}}},
  {"data": {"values": [{}]}, "mark": {"type": "point", "shape": "M-1,0A1,0.85 0 1,0 1,0A1,0.85 0 1,0 -1,0Z", "filled": false, "color": "black", "strokeWidth": 1, "size": 324, "opacity": 1},
   "encoding": {"x": {"datum": 10680, "type": "quantitative", "scale": {"domain": [10000, 14235], "nice": false, "zero": false}, "axis": null}, "y": {"datum": 1.4e-16, "type": "quantitative", "scale": {"type": "log", "domain": [1e-19, 1e-14], "nice": false}, "axis": null}}},
  {"data": {"values": [{}]}, "mark": {"type": "point", "shape": "M-0.8,0A0.8,1 0 1,0 0.8,0A0.8,1 0 1,0 -0.8,0Z", "filled": false, "color": "black", "strokeWidth": 1, "size": 289, "opacity": 1},
   "encoding": {"x": {"datum": 12295, "type": "quantitative", "scale": {"domain": [10000, 14235], "nice": false, "zero": false}, "axis": null}, "y": {"datum": 1.4e-15, "type": "quantitative", "scale": {"type": "log", "domain": [1e-19, 1e-14], "nice": false}, "axis": null}}},
  {"data": {"values": [{}]}, "mark": {"type": "text", "text": "³P₀", "fontSize": 28, "color": "#3a3aff", "align": "center", "baseline": "middle"},
   "encoding": {"x": {"datum": 14318, "type": "quantitative", "scale": {"domain": [10000, 14235], "nice": false, "zero": false}, "axis": null}, "y": {"datum": 7.9e-14, "type": "quantitative", "scale": {"type": "log", "domain": [1e-19, 1e-14], "nice": false}, "axis": null}}}
 ]
},
{
 "width": 566, "height": 165,
 "resolve": {"axis": {"x": "independent", "y": "independent"}},
 "layer": [
  {"data": {"values": [{}]}, "mark": {"type": "rule", "color": "#ff00ff", "strokeWidth": 1.2}, "encoding": {"x": {"datum": 14424, "type": "quantitative", "scale": {"domain": [10000, 15000], "nice": false, "zero": false}, "axis": null}}},
  {"data": {"values": [{}]}, "mark": {"type": "rule", "color": "#ff8000", "strokeWidth": 1.2}, "encoding": {"x": {"datum": 14815, "type": "quantitative", "scale": {"domain": [10000, 15000], "nice": false, "zero": false}, "axis": null}}},
  {"data": {"name": "dBlack"}, "mark": {"type": "line", "color": "black", "strokeWidth": 1, "clip": true},
   "encoding": {
    "x": {"field": "x", "type": "quantitative", "scale": {"domain": [10000, 15000], "nice": false, "zero": false},
      "axis": {"orient": "bottom", "values": [10000,10500,11000,11500,12000,12500,13000,13500,14000,14500,15000], "tickSize": {"condition": {"test": "datum.value % 1000 == 0", "value": 12}, "value": 7}, "labelExpr": "datum.value % 1000 == 0 ? format(datum.value, 'd') : ''", "labelPadding": 3,
        "title": "Laser wavenumber (cm⁻¹)", "titleFontSize": 46, "titlePadding": 4}},
    "y": {"field": "y", "type": "quantitative", "scale": {"type": "log", "domain": [1e-22, 4.5e-15], "nice": false},
      "axis": {"orient": "left", "tickCount": 40, "tickSize": {"condition": {"test": "abs(log(datum.value)/LN10 - round(log(datum.value)/LN10)) < 0.01", "value": 11}, "value": 6}, "labelExpr": "abs(log(datum.value)/LN10 - round(log(datum.value)/LN10)) < 0.01 && round(log(datum.value)/LN10) % 2 == 0 ? '10⁻' + substring('⁰¹²³⁴⁵⁶⁷⁸⁹', floor(-round(log(datum.value)/LN10) / 10), floor(-round(log(datum.value)/LN10) / 10) + 1) + substring('⁰¹²³⁴⁵⁶⁷⁸⁹', -round(log(datum.value)/LN10) % 10, -round(log(datum.value)/LN10) % 10 + 1) : ''", "labelPadding": 2, "title": null}}
   }},
  {"data": {"name": "dBlack"}, "mark": {"type": "point", "shape": "square", "filled": true, "color": "black", "size": 22, "opacity": 1, "clip": true},
   "encoding": {
    "x": {"field": "x", "type": "quantitative", "scale": {"domain": [10000, 15000], "nice": false, "zero": false},
      "axis": {"orient": "top", "values": [10000,10500,11000,11500,12000,12500,13000,13500,14000,14500,15000], "tickSize": {"condition": {"test": "datum.value % 1000 == 0", "value": -12}, "value": -7}, "labels": false, "title": null}},
    "y": {"field": "y", "type": "quantitative", "scale": {"type": "log", "domain": [1e-22, 4.5e-15], "nice": false},
      "axis": {"orient": "right", "tickCount": 40, "tickSize": {"condition": {"test": "abs(log(datum.value)/LN10 - round(log(datum.value)/LN10)) < 0.01", "value": -11}, "value": -6}, "labels": false, "title": null}}
   }},
  {"data": {"name": "dRed"}, "mark": {"type": "line", "color": "#ff0000", "strokeWidth": 1, "clip": true},
   "encoding": {"x": {"field": "x", "type": "quantitative", "scale": {"domain": [10000, 15000], "nice": false, "zero": false}, "axis": null}, "y": {"field": "y", "type": "quantitative", "scale": {"type": "log", "domain": [1e-22, 4.5e-15], "nice": false}, "axis": null}}},
  {"data": {"name": "dRed"}, "mark": {"type": "point", "shape": "circle", "filled": true, "color": "#ff0000", "size": 30, "opacity": 1, "clip": true},
   "encoding": {"x": {"field": "x", "type": "quantitative", "scale": {"domain": [10000, 15000], "nice": false, "zero": false}, "axis": null}, "y": {"field": "y", "type": "quantitative", "scale": {"type": "log", "domain": [1e-22, 4.5e-15], "nice": false}, "axis": null}}},
  {"data": {"name": "dBlue"}, "mark": {"type": "line", "color": "#0000ff", "strokeWidth": 1, "clip": true},
   "encoding": {"x": {"field": "x", "type": "quantitative", "scale": {"domain": [10000, 15000], "nice": false, "zero": false}, "axis": null}, "y": {"field": "y", "type": "quantitative", "scale": {"type": "log", "domain": [1e-22, 4.5e-15], "nice": false}, "axis": null}}},
  {"data": {"name": "dBlue"}, "mark": {"type": "point", "shape": "triangle-up", "filled": true, "color": "#0000ff", "size": 40, "opacity": 1, "clip": true},
   "encoding": {"x": {"field": "x", "type": "quantitative", "scale": {"domain": [10000, 15000], "nice": false, "zero": false}, "axis": null}, "y": {"field": "y", "type": "quantitative", "scale": {"type": "log", "domain": [1e-22, 4.5e-15], "nice": false}, "axis": null}}},
  {"data": {"values": [{}]}, "mark": {"type": "text", "text": "d)", "fontSize": 26, "color": "black", "align": "left", "baseline": "middle"},
   "encoding": {"x": {"datum": 10115, "type": "quantitative", "scale": {"domain": [10000, 15000], "nice": false, "zero": false}, "axis": null}, "y": {"datum": 3.5e-16, "type": "quantitative", "scale": {"type": "log", "domain": [1e-22, 4.5e-15], "nice": false}, "axis": null}}},
  {"data": {"values": [{}]}, "mark": {"type": "text", "text": "v'=10", "fontSize": 27, "color": "black", "align": "left", "baseline": "middle"},
   "encoding": {"x": {"datum": 10865, "type": "quantitative", "scale": {"domain": [10000, 15000], "nice": false, "zero": false}, "axis": null}, "y": {"datum": 4.7e-19, "type": "quantitative", "scale": {"type": "log", "domain": [1e-22, 4.5e-15], "nice": false}, "axis": null}}},
  {"data": {"values": [{}]}, "mark": {"type": "text", "text": "v'=59", "fontSize": 27, "color": "black", "align": "left", "baseline": "middle"},
   "encoding": {"x": {"datum": 12807, "type": "quantitative", "scale": {"domain": [10000, 15000], "nice": false, "zero": false}, "axis": null}, "y": {"datum": 1.4e-13, "type": "quantitative", "scale": {"type": "log", "domain": [1e-22, 4.5e-15], "nice": false}, "axis": null}}},
  {"data": {"values": [{}]}, "mark": {"type": "point", "shape": "M-1,0A1,0.42 0 1,0 1,0A1,0.42 0 1,0 -1,0Z", "filled": false, "color": "black", "strokeWidth": 1, "size": 361, "opacity": 1},
   "encoding": {"x": {"datum": 10978, "type": "quantitative", "scale": {"domain": [10000, 15000], "nice": false, "zero": false}, "axis": null}, "y": {"datum": 9.1e-17, "type": "quantitative", "scale": {"type": "log", "domain": [1e-22, 4.5e-15], "nice": false}, "axis": null}}},
  {"data": {"values": [{}]}, "mark": {"type": "point", "shape": "M-0.65,0A0.65,1 0 1,0 0.65,0A0.65,1 0 1,0 -0.65,0Z", "filled": false, "color": "black", "strokeWidth": 1, "size": 289, "opacity": 1},
   "encoding": {"x": {"datum": 13023, "type": "quantitative", "scale": {"domain": [10000, 15000], "nice": false, "zero": false}, "axis": null}, "y": {"datum": 2.8e-16, "type": "quantitative", "scale": {"type": "log", "domain": [1e-22, 4.5e-15], "nice": false}, "axis": null}}},
  {"data": {"values": [{}]}, "mark": {"type": "text", "text": "³P₁", "fontSize": 28, "color": "#ff00ff", "align": "center", "baseline": "middle"},
   "encoding": {"x": {"datum": 14529, "type": "quantitative", "scale": {"domain": [10000, 15000], "nice": false, "zero": false}, "axis": null}, "y": {"datum": 7.9e-14, "type": "quantitative", "scale": {"type": "log", "domain": [1e-22, 4.5e-15], "nice": false}, "axis": null}}},
  {"data": {"values": [{}]}, "mark": {"type": "text", "text": "³P₂", "fontSize": 28, "color": "#ff8000", "align": "center", "baseline": "middle"},
   "encoding": {"x": {"datum": 15014, "type": "quantitative", "scale": {"domain": [10000, 15000], "nice": false, "zero": false}, "axis": null}, "y": {"datum": 7.9e-14, "type": "quantitative", "scale": {"type": "log", "domain": [1e-22, 4.5e-15], "nice": false}, "axis": null}}}
 ]
}
]
}
